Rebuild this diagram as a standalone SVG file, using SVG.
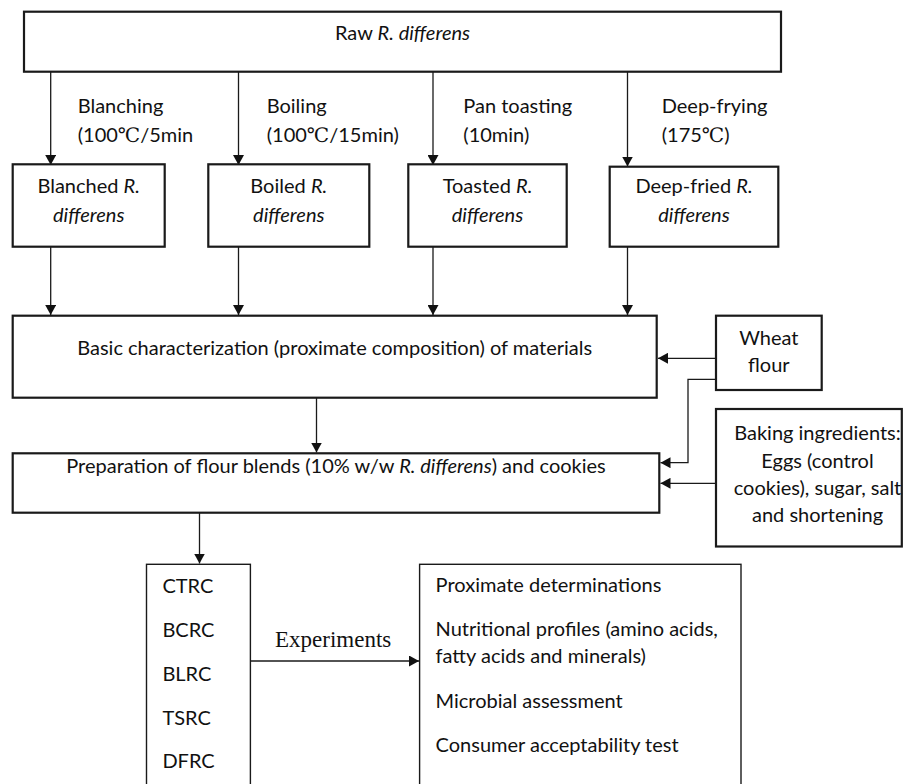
<svg xmlns="http://www.w3.org/2000/svg" width="903" height="784" viewBox="0 0 903 784">
<defs>
<style>
.box{fill:#fff;stroke:#1a1a1a;stroke-width:2.2}
.tbox{fill:#fff;stroke:#1a1a1a;stroke-width:1.4}
.ln{fill:none;stroke:#1a1a1a;stroke-width:1.3}
text{font-family:Lato,"Open Sans",sans-serif;font-size:20px;fill:#111}
.c{text-anchor:middle}
.i{font-style:italic}
.deg{font-family:"Liberation Serif","DejaVu Serif","Noto Sans CJK SC",serif}
.exp{font-family:"Liberation Serif",serif;font-size:23px}
</style>
<marker id="ah" markerWidth="11" markerHeight="11" refX="10" refY="5.5" orient="auto" markerUnits="userSpaceOnUse">
<path d="M0,0 L10,5.5 L0,11 Z" fill="#111"/>
</marker>
</defs>
<g id="connectors">
<path class="ln" d="M50.7,72 V165" marker-end="url(#ah)"/>
<path class="ln" d="M238.5,72 V165" marker-end="url(#ah)"/>
<path class="ln" d="M433,72 V165" marker-end="url(#ah)"/>
<path class="ln" d="M627.5,72 V166.5" marker-end="url(#ah)"/>
<path class="ln" d="M50.7,247 V315" marker-end="url(#ah)"/>
<path class="ln" d="M238.5,247 V315" marker-end="url(#ah)"/>
<path class="ln" d="M433,247 V315" marker-end="url(#ah)"/>
<path class="ln" d="M627.5,247 V315" marker-end="url(#ah)"/>
<path class="ln" d="M716,358.3 H658" marker-end="url(#ah)"/>
<path class="ln" d="M716,379.3 H688 V462.7 H660.5" marker-end="url(#ah)"/>
<path class="ln" d="M716,483.3 H660.5" marker-end="url(#ah)"/>
<path class="ln" d="M316.5,398 V452.5" marker-end="url(#ah)"/>
<path class="ln" d="M199.5,513 V563.5" marker-end="url(#ah)"/>
<path class="ln" d="M250.4,661 H419" marker-end="url(#ah)"/>
</g>
<g id="labels">
<text x="77.7" y="113">Blanching</text>
<text x="77.7" y="141.7">(100<tspan class="deg">℃</tspan>/5min</text>
<text x="266.7" y="113">Boiling</text>
<text x="266.7" y="141.7">(100<tspan class="deg">℃</tspan>/15min)</text>
<text x="463.3" y="113">Pan toasting</text>
<text x="463.3" y="141.7">(10min)</text>
<text x="661.7" y="113">Deep-frying</text>
<text x="661.7" y="141.7">(175<tspan class="deg">℃</tspan>)</text>
<text class="exp" x="275" y="646.7">Experiments</text>
</g>
<g id="raw">
<rect class="box" x="24" y="11.7" width="757" height="60"/>
<text class="c" x="402.5" y="40">Raw <tspan class="i">R. differens</tspan></text>
</g>
<g id="blanched">
<rect class="box" x="12.7" y="164.3" width="152" height="82.4"/>
<text class="c" x="88.7" y="193">Blanched <tspan class="i">R.</tspan></text>
<text class="c i" x="88.7" y="221.7">differens</text>
</g>
<g id="boiled">
<rect class="box" x="208.3" y="164.3" width="161" height="82.4"/>
<text class="c" x="288.8" y="193">Boiled <tspan class="i">R.</tspan></text>
<text class="c i" x="288.8" y="221.7">differens</text>
</g>
<g id="toasted">
<rect class="box" x="408.3" y="164.3" width="158.4" height="82.4"/>
<text class="c" x="487.5" y="193">Toasted <tspan class="i">R.</tspan></text>
<text class="c i" x="487.5" y="221.7">differens</text>
</g>
<g id="deepfried">
<rect class="box" x="609.7" y="166.7" width="168.6" height="80"/>
<text class="c" x="694" y="193">Deep-fried <tspan class="i">R.</tspan></text>
<text class="c i" x="694" y="221.7">differens</text>
</g>
<g id="basic">
<rect class="box" x="12.7" y="315.7" width="644" height="82"/>
<text class="c" x="334.7" y="355">Basic characterization (proximate composition) of materials</text>
</g>
<g id="wheat">
<rect class="box" x="716" y="315.7" width="105.7" height="74.3"/>
<text class="c" x="768.8" y="345">Wheat</text>
<text class="c" x="768.8" y="371.7">flour</text>
</g>
<g id="preparation">
<rect class="box" x="12.7" y="453.3" width="646.6" height="59.4"/>
<text class="c" x="336" y="473.3">Preparation of flour blends (10% w/w <tspan class="i">R. differens</tspan>) and cookies</text>
</g>
<g id="baking">
<rect class="box" x="716" y="409" width="185.8" height="137.5"/>
<text class="c" x="817.5" y="440">Baking ingredients:</text>
<text class="c" x="817.5" y="468">Eggs (control</text>
<text class="c" x="817.5" y="495">cookies), sugar, salt</text>
<text class="c" x="817.5" y="521.7">and shortening</text>
</g>
<g id="samples">
<rect class="tbox" x="146.5" y="564.3" width="103.9" height="230"/>
<text x="162.4" y="593.3">CTRC</text>
<text x="162.4" y="636.7">BCRC</text>
<text x="162.4" y="681">BLRC</text>
<text x="162.4" y="725">TSRC</text>
<text x="162.4" y="768.3">DFRC</text>
</g>
<g id="analyses">
<rect class="tbox" x="419.6" y="564.3" width="321.4" height="230"/>
<text x="435.6" y="591.7">Proximate determinations</text>
<text x="435.6" y="636">Nutritional profiles (amino acids,</text>
<text x="435.6" y="663.3">fatty acids and minerals)</text>
<text x="435.6" y="708.3">Microbial assessment</text>
<text x="435.6" y="751.7">Consumer acceptability test</text>
</g>
</svg>
